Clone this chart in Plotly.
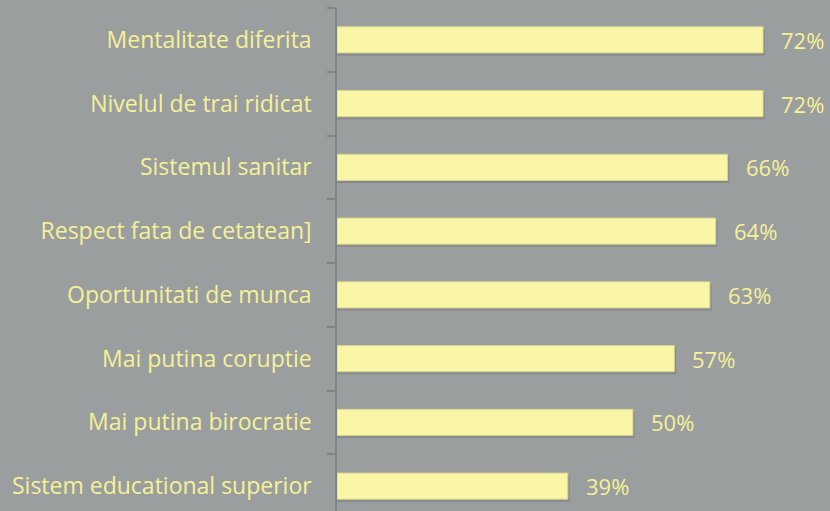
import plotly.graph_objects as go

categories = ["Sistem educational superior", "Mai putina birocratie", "Mai putina coruptie",
              "Oportunitati de munca", "Respect fata de cetatean]", "Sistemul sanitar",
              "Nivelul de trai ridicat", "Mentalitate diferita"]
values = [39, 50, 57, 63, 64, 66, 72, 72]
labels = [f"{v}%" for v in values]

bg = "#9a9e9f"
yellow = "#f9f6a8"
txt = "#f6f196"
FONT = "Open Sans"
W = 0.41

fig = go.Figure()
# subtle drop shadow
fig.add_trace(go.Bar(y=categories, x=[v + 0.3 for v in values], orientation="h",
                     width=W, offset=-W / 2 - 0.04,
                     marker=dict(color="rgba(70,70,70,0.22)", line=dict(width=0)),
                     hoverinfo="skip", showlegend=False))
fig.add_trace(go.Bar(y=categories, x=values, orientation="h", width=W, offset=-W / 2,
                     marker=dict(color=yellow, line=dict(color="#d8d48e", width=1)),
                     showlegend=False))
for c, v, t in zip(categories, values, labels):
    fig.add_annotation(x=v, y=c, text=t, showarrow=False, xanchor="left", xshift=16,
                       font=dict(family=FONT, size=22, color=txt))

fig.update_layout(
    width=830, height=511, paper_bgcolor=bg, plot_bgcolor=bg,
    margin=dict(l=337, r=0, t=8, b=0), barmode="overlay",
    xaxis=dict(range=[0, 83.3], visible=False, showgrid=False, zeroline=False),
    yaxis=dict(range=[-0.39, 7.5], showgrid=False, zeroline=False,
               showline=True, linecolor="#808485", linewidth=1.5,
               ticks="outside", tickson="boundaries", ticklen=8, tickcolor="#808485",
               tickwidth=1.5, categoryorder="array", categoryarray=categories,
               tickfont=dict(family=FONT, size=23, color=txt), ticklabelstandoff=19),
)
fig.write_html("out.html", config={"displayModeBar": False},
               post_script="document.body.style.margin='0';")
